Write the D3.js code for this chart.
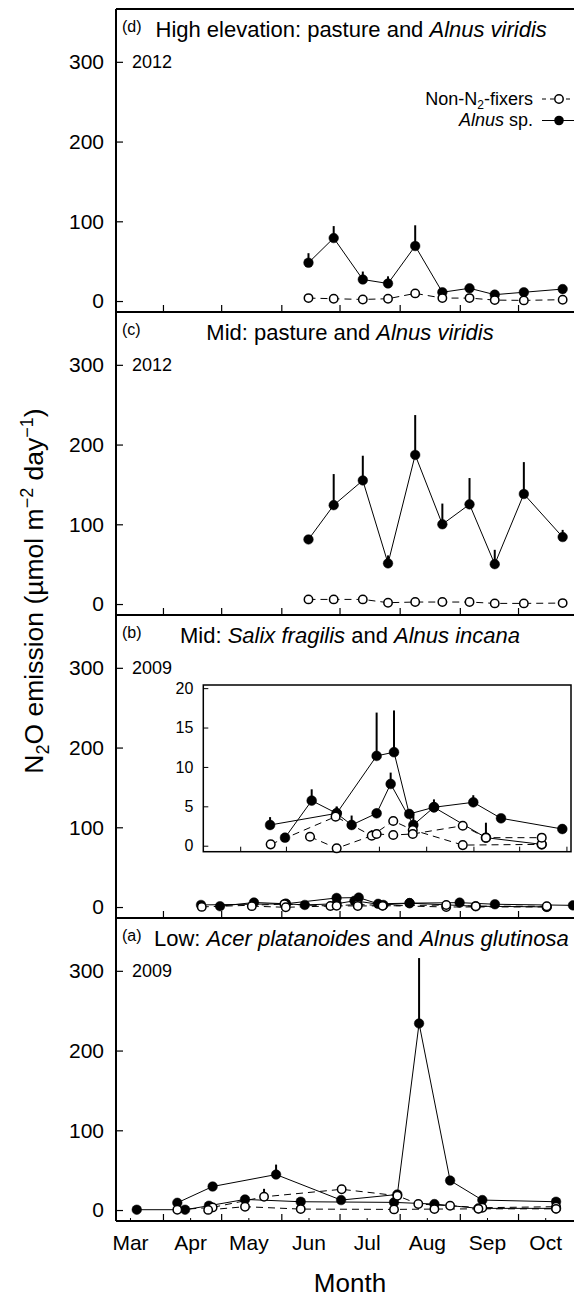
<!DOCTYPE html>
<html><head><meta charset="utf-8">
<script src="https://cdn.jsdelivr.net/npm/d3@7"></script>
<style>
body{margin:0;background:#fff}
svg{display:block}
text{font-family:"Liberation Sans",Arial,sans-serif;fill:#000;white-space:pre}
</style>
</head><body>
<script>
// ---------- axis categories / ticks ----------
const monthStarts=[91,121,152,182,213,244,274,305];
const monthMids=[74,105,135,166,196,227,258,288];
const monthLabels=["Mar","Apr","May","Jun","Jul","Aug","Sep","Oct"];
const yTicks=[0,100,200,300];
const insetTicks=[0,5,10,15,20];

// ---------- 2012 sampling dates (day of year), panels (d) and (c) ----------
const dates2012=[166,179,194,207,221,235,249,262,277,297];
const dAlnus=[48,79,27,22,69,11,16,8,11,15];
const dAlnusErr=[12,15,10,9,26,2,2,1,1,1];
const dNonFix=[3.7,2.9,2,2.9,9.6,3.7,3.7,1.2,0.8,1.7];
const cAlnus=[81,124,155,51,187,100,125,50,138,84];
const cAlnusErr=[3,39,31,10,50,26,33,18,40,9];
const cNonFix=[5.8,5.8,5.8,1.7,2.5,2.5,2.5,0.8,0.8,1.2];

// ---------- panel (b), 2009 ----------
const bAlnus1Dates=[120.4,137.9,154.3,180.5,191.9,201.9,218.1,243.9,262.1,302.3];
const bAlnus1=[1.02,5.72,4.11,11.4,11.87,4.03,4.88,5.51,3.48,2.12];
const bAlnus1Err=[0,1.44,0.85,5.5,5.3,0,1.0,0.9,0,0];
const bAlnus2Dates=[110.6,154.3,164.1,180.5,189.7,204.6,218.1,252.2,288.8];
const bAlnus2=[2.63,4.11,2.63,4.11,7.84,2.63,4.88,1.02,0.17];
const bAlnus2Err=[1.0,0.85,1.2,0.6,1.44,1.5,0,1.9,0];
const bNonFix1Dates=[111.0,153.6,177.3,191.4,204.2,237,288.8];
const bNonFix1=[0.17,3.69,1.27,3.14,2.0,0.08,0.17];
const bNonFix1Err=[0,0,0.7,0.5,0,0.5,0];
const bNonFix2Dates=[136.8,154.3,180.5,191.4,204.2,237,252.2,288.8];
const bNonFix2=[1.14,-0.33,1.49,1.36,1.49,2.54,1.02,1.02];

// ---------- panel (a), 2009 ----------
const aAlnus1Dates=[98.4,116.6,149.3,182.8,211.8,223,239,255.6,293.6];
const aAlnus1=[9.1,29.5,44.5,12.5,19.5,234,37,12.5,10.4];
const aAlnus1Err=[0,0,12.5,0,0,82,0,0,0];
const aAlnus2Dates=[77.5,102.4,114.7,133.3,162,210.1,230.9,253.6,293.6];
const aAlnus2=[0.4,0.4,5.4,13.3,10.4,9.6,7.5,2.1,2.1];
const aNonFix1Dates=[98.4,116.6,143.1,183.1,211.8,222.6,239,255.6,293.6];
const aNonFix1=[0.4,3.3,16.6,26,18,7.5,5.4,2.9,4.2];
const aNonFix1Err=[0,0,10,0,0,0,0,0,0];
const aNonFix2Dates=[114.3,133.3,162,210.1,230.9,253.6,293.6];
const aNonFix2=[0.2,4.2,1.2,0.8,1.2,1.5,1.5];

// ---------- layout ----------
const W=574,H=1300;
const left=116,right=584,panelH=303,firstTop=9;
const svg=d3.select("body").append("svg").attr("width",W).attr("height",H);
const x=d3.scaleLinear().domain([66.8,308]).range([left,right]);

function zip(ds,vs,es){return ds.map((d,i)=>({d:d,v:vs[i],e:es?es[i]:0}));}

const panels=[
 {key:"d",year:"2012",title:[["High elevation: pasture and ",0],["Alnus viridis",1]],anchor:"start",tx:155.5,
  series:[{pts:zip(dates2012,dNonFix),filled:false},{pts:zip(dates2012,dAlnus,dAlnusErr),filled:true}],legend:true},
 {key:"c",year:"2012",title:[["Mid: pasture and ",0],["Alnus viridis",1]],anchor:"middle",tx:350,
  series:[{pts:zip(dates2012,cNonFix),filled:false},{pts:zip(dates2012,cAlnus,cAlnusErr),filled:true}]},
 {key:"b",year:"2009",title:[["Mid: ",0],["Salix fragilis",1],[" and ",0],["Alnus incana",1]],anchor:"middle",tx:350,
  series:[{pts:zip(bAlnus1Dates,bAlnus1,bAlnus1Err),filled:true},{pts:zip(bAlnus2Dates,bAlnus2,bAlnus2Err),filled:true},
          {pts:zip(bNonFix1Dates,bNonFix1,bNonFix1Err),filled:false},{pts:zip(bNonFix2Dates,bNonFix2),filled:false}],inset:true},
 {key:"a",year:"2009",title:[["Low: ",0],["Acer platanoides",1],[" and ",0],["Alnus glutinosa",1]],anchor:"start",tx:154,
  series:[{pts:zip(aAlnus1Dates,aAlnus1,aAlnus1Err),filled:true},{pts:zip(aAlnus2Dates,aAlnus2),filled:true},
          {pts:zip(aNonFix1Dates,aNonFix1,aNonFix1Err),filled:false},{pts:zip(aNonFix2Dates,aNonFix2),filled:false}],months:true}
];

function drawSeries(g,xs,ys,series,rF,rO){
  const line=d3.line().x(p=>xs(p.d)).y(p=>ys(p.v));
  series.forEach(s=>{
    g.append("path").datum(s.pts).attr("d",line).attr("fill","none").attr("stroke","#000")
     .attr("stroke-width",1).attr("stroke-dasharray",s.filled?null:"7,5");
  });
  const order=series.filter(s=>s.filled).concat(series.filter(s=>!s.filled));
  order.forEach(s=>{
    g.selectAll(null).data(s.pts.filter(p=>p.e>0)).enter().append("line")
     .attr("x1",p=>xs(p.d)).attr("x2",p=>xs(p.d)).attr("y1",p=>ys(p.v)).attr("y2",p=>ys(p.v+p.e))
     .attr("stroke","#000").attr("stroke-width",2);
    g.selectAll(null).data(s.pts).enter().append("circle")
     .attr("cx",p=>xs(p.d)).attr("cy",p=>ys(p.v)).attr("r",s.filled?rF:rO)
     .attr("fill",s.filled?"#000":"#fff").attr("stroke","#000").attr("stroke-width",s.filled?0.5:1.5);
  });
}

panels.forEach((p,i)=>{
  const top=firstTop+i*panelH, bottom=top+panelH;
  const g=svg.append("g");
  const y=d3.scaleLinear().domain([-13.75,366.25]).range([bottom,top]);

  g.append("g").attr("transform",`translate(0,${bottom})`)
   .call(d3.axisBottom(x).tickValues(monthStarts).tickSize(-7).tickFormat(""))
   .call(a=>a.select(".domain").remove())
   .selectAll("line").attr("stroke-width",1.2);
  if(p.months){
    const ax=g.append("g").attr("transform",`translate(0,${bottom})`)
     .call(d3.axisBottom(x).tickValues(monthMids).tickSize(-3).tickPadding(14).tickFormat((d,j)=>monthLabels[j]))
     .call(a=>a.select(".domain").remove());
    ax.selectAll("line").attr("stroke-width",1);
    ax.selectAll("text").attr("font-family","Liberation Sans, Arial, sans-serif").style("font-size","21px");
  }
  const ay=g.append("g").attr("transform",`translate(${left},0)`)
   .call(d3.axisLeft(y).tickValues(yTicks).tickSize(-7).tickPadding(12))
   .call(a=>a.select(".domain").remove());
  ay.selectAll("line").attr("stroke-width",1.2);
  ay.selectAll("text").attr("font-family","Liberation Sans, Arial, sans-serif").style("font-size","21px");

  g.append("line").attr("x1",left).attr("x2",right).attr("y1",bottom).attr("y2",bottom)
   .attr("stroke","#000").attr("stroke-width",2);

  g.append("text").attr("x",122).attr("y",top+23).style("font-size","16px").text(`(${p.key})`);
  const t=g.append("text").attr("x",p.tx).attr("y",top+28).attr("text-anchor",p.anchor).style("font-size","22px");
  p.title.forEach(([s,it])=>t.append("tspan").text(s).style("font-style",it?"italic":"normal"));
  g.append("text").attr("x",132).attr("y",y(300)).attr("dy","0.36em").style("font-size","18px").text(p.year);

  drawSeries(g,x,y,p.series,4.8,4.2);

  if(p.legend){
    const lx1=542,lx2=578,cx=559;
    const ly1=top+90,ly2=top+111.5;
    g.append("text").attr("x",533).attr("y",ly1+5.5).attr("text-anchor","end").style("font-size","18px")
     .call(tx=>{tx.append("tspan").text("Non-N");
       tx.append("tspan").text("2").style("font-size","12px").attr("dy","4");
       tx.append("tspan").text("-fixers").attr("dy","-4");});
    g.append("text").attr("x",533).attr("y",ly2+5.5).attr("text-anchor","end").style("font-size","18px")
     .call(tx=>{tx.append("tspan").text("Alnus").style("font-style","italic");tx.append("tspan").text(" sp.");});
    g.append("line").attr("x1",lx1).attr("x2",lx2).attr("y1",ly1).attr("y2",ly1).attr("stroke","#000").attr("stroke-dasharray","4,4");
    g.append("circle").attr("cx",cx).attr("cy",ly1).attr("r",4.2).attr("fill","#fff").attr("stroke","#000").attr("stroke-width",1.5);
    g.append("line").attr("x1",lx1).attr("x2",lx2).attr("y1",ly2).attr("y2",ly2).attr("stroke","#000");
    g.append("circle").attr("cx",cx).attr("cy",ly2).attr("r",4.8).attr("fill","#000");
  }

  if(p.inset){
    const ix0=203.3,ix1=571,iy0=top+70,iy1=top+236.7;
    const xi=d3.scaleLinear().domain([66.8,308]).range([ix0,ix1]);
    const yi=d3.scaleLinear().domain([-0.76,20.4]).range([iy1,iy0]);
    const gi=g.append("g");
    gi.append("rect").attr("x",ix0).attr("y",iy0).attr("width",ix1-ix0).attr("height",iy1-iy0)
      .attr("fill","#fff").attr("stroke","#000").attr("stroke-width",1.5);
    gi.append("g").attr("transform",`translate(0,${iy1})`)
      .call(d3.axisBottom(xi).tickValues(monthStarts).tickSize(-5).tickFormat(""))
      .call(a=>a.select(".domain").remove());
    const ai=gi.append("g").attr("transform",`translate(${ix0},0)`)
      .call(d3.axisLeft(yi).tickValues(insetTicks).tickSize(-5).tickPadding(10))
      .call(a=>a.select(".domain").remove());
    ai.selectAll("text").attr("font-family","Liberation Sans, Arial, sans-serif").style("font-size","16px");
    drawSeries(gi,xi,yi,p.series,4.9,4.3);
  }
});

svg.append("line").attr("x1",left).attr("x2",left).attr("y1",firstTop).attr("y2",firstTop+4*panelH)
  .attr("stroke","#000").attr("stroke-width",2);
svg.append("line").attr("x1",left).attr("x2",right).attr("y1",firstTop).attr("y2",firstTop)
  .attr("stroke","#000").attr("stroke-width",2);

const yt=svg.append("text").attr("transform","translate(43,591) rotate(-90)").attr("text-anchor","middle").style("font-size","26.5px");
yt.append("tspan").text("N");
yt.append("tspan").text("2").style("font-size","18px").attr("dy","6");
yt.append("tspan").text("O emission (\u00b5mol m").attr("dy","-6");
yt.append("tspan").text("\u22122").style("font-size","18px").attr("dy","-10");
yt.append("tspan").text(" day").attr("dy","10");
yt.append("tspan").text("\u22121").style("font-size","18px").attr("dy","-10");
yt.append("tspan").text(")").attr("dy","10");

svg.append("text").attr("x",350).attr("y",1292).attr("text-anchor","middle").style("font-size","26px").text("Month");
</script>
</body></html>
